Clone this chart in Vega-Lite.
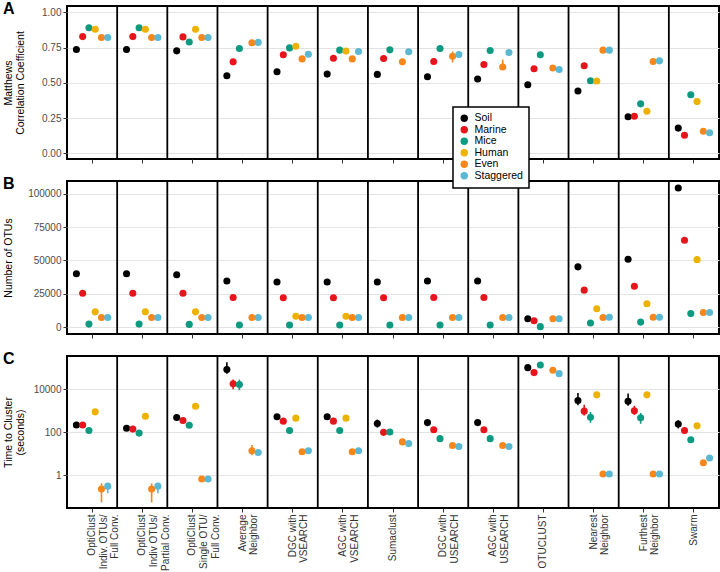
{
  "$schema": "https://vega.github.io/schema/vega-lite/v6.json",
  "padding": {"left": 2, "top": 0, "right": 2, "bottom": 0},
  "spacing": 10,
  "datasets": {
    "m": [
      {"method": "OptiClust|Indiv OTUs/|Partial Conv."},
      {"method": "OptiClust|Single OTU/|Full Conv."},
      {"method": "Average|Neighbor"},
      {"method": "DGC with|VSEARCH"},
      {"method": "AGC with|VSEARCH"},
      {"method": "Sumaclust"},
      {"method": "DGC with|USEARCH"},
      {"method": "AGC with|USEARCH"},
      {"method": "OTUCLUST"},
      {"method": "Nearest|Neighbor"},
      {"method": "Furthest|Neighbor"},
      {"method": "Swarm"}
    ],
    "d": [
      {"method": "OptiClust|Indiv. OTUs/|Full Conv.", "dataset": "Soil", "mcc": 0.736, "otus": 40000, "time": 220},
      {"method": "OptiClust|Indiv. OTUs/|Full Conv.", "dataset": "Marine", "mcc": 0.828, "otus": 25400, "time": 220},
      {"method": "OptiClust|Indiv. OTUs/|Full Conv.", "dataset": "Mice", "mcc": 0.891, "otus": 2200, "time": 122},
      {"method": "OptiClust|Indiv. OTUs/|Full Conv.", "dataset": "Human", "mcc": 0.88, "otus": 11400, "time": 890},
      {"method": "OptiClust|Indiv. OTUs/|Full Conv.", "dataset": "Even", "mcc": 0.821, "otus": 7200, "time": 0.235, "time_lo": 0.056, "time_hi": 0.43},
      {"method": "OptiClust|Indiv. OTUs/|Full Conv.", "dataset": "Staggered", "mcc": 0.821, "otus": 7200, "time": 0.32, "time_lo": 0.15, "time_hi": 0.36},

      {"method": "OptiClust|Indiv OTUs/|Partial Conv.", "dataset": "Soil", "mcc": 0.736, "otus": 40000, "time": 156},
      {"method": "OptiClust|Indiv OTUs/|Partial Conv.", "dataset": "Marine", "mcc": 0.828, "otus": 25400, "time": 141},
      {"method": "OptiClust|Indiv OTUs/|Partial Conv.", "dataset": "Mice", "mcc": 0.891, "otus": 2200, "time": 92},
      {"method": "OptiClust|Indiv OTUs/|Partial Conv.", "dataset": "Human", "mcc": 0.88, "otus": 11400, "time": 562},
      {"method": "OptiClust|Indiv OTUs/|Partial Conv.", "dataset": "Even", "mcc": 0.821, "otus": 7200, "time": 0.235, "time_lo": 0.056, "time_hi": 0.43},
      {"method": "OptiClust|Indiv OTUs/|Partial Conv.", "dataset": "Staggered", "mcc": 0.821, "otus": 7200, "time": 0.32, "time_lo": 0.15, "time_hi": 0.36},

      {"method": "OptiClust|Single OTU/|Full Conv.", "dataset": "Soil", "mcc": 0.727, "otus": 39300, "time": 490},
      {"method": "OptiClust|Single OTU/|Full Conv.", "dataset": "Marine", "mcc": 0.826, "otus": 25400, "time": 355},
      {"method": "OptiClust|Single OTU/|Full Conv.", "dataset": "Mice", "mcc": 0.79, "otus": 2000, "time": 215},
      {"method": "OptiClust|Single OTU/|Full Conv.", "dataset": "Human", "mcc": 0.88, "otus": 11400, "time": 1630},
      {"method": "OptiClust|Single OTU/|Full Conv.", "dataset": "Even", "mcc": 0.821, "otus": 7200, "time": 0.68},
      {"method": "OptiClust|Single OTU/|Full Conv.", "dataset": "Staggered", "mcc": 0.821, "otus": 7200, "time": 0.68},

      {"method": "Average|Neighbor", "dataset": "Soil", "mcc": 0.55, "otus": 34600, "time": 81000, "time_lo": 52000, "time_hi": 180000},
      {"method": "Average|Neighbor", "dataset": "Marine", "mcc": 0.649, "otus": 22200, "time": 18000, "time_lo": 10000, "time_hi": 28000},
      {"method": "Average|Neighbor", "dataset": "Mice", "mcc": 0.743, "otus": 1500, "time": 16400, "time_lo": 9000, "time_hi": 28000},
      {"method": "Average|Neighbor", "dataset": "Even", "mcc": 0.785, "otus": 7200, "time": 14, "time_lo": 8.7, "time_hi": 25.7},
      {"method": "Average|Neighbor", "dataset": "Staggered", "mcc": 0.787, "otus": 7200, "time": 11.6},

      {"method": "DGC with|VSEARCH", "dataset": "Soil", "mcc": 0.579, "otus": 33800, "time": 525, "time_lo": 400, "time_hi": 690},
      {"method": "DGC with|VSEARCH", "dataset": "Marine", "mcc": 0.699, "otus": 22000, "time": 330},
      {"method": "DGC with|VSEARCH", "dataset": "Mice", "mcc": 0.748, "otus": 1500, "time": 121},
      {"method": "DGC with|VSEARCH", "dataset": "Human", "mcc": 0.76, "otus": 8100, "time": 455},
      {"method": "DGC with|VSEARCH", "dataset": "Even", "mcc": 0.67, "otus": 7200, "time": 12.6},
      {"method": "DGC with|VSEARCH", "dataset": "Staggered", "mcc": 0.703, "otus": 7200, "time": 13.9},

      {"method": "AGC with|VSEARCH", "dataset": "Soil", "mcc": 0.562, "otus": 33800, "time": 525},
      {"method": "AGC with|VSEARCH", "dataset": "Marine", "mcc": 0.675, "otus": 22000, "time": 330},
      {"method": "AGC with|VSEARCH", "dataset": "Mice", "mcc": 0.732, "otus": 1500, "time": 121},
      {"method": "AGC with|VSEARCH", "dataset": "Human", "mcc": 0.725, "otus": 8100, "time": 455},
      {"method": "AGC with|VSEARCH", "dataset": "Even", "mcc": 0.67, "otus": 7200, "time": 12.6},
      {"method": "AGC with|VSEARCH", "dataset": "Staggered", "mcc": 0.722, "otus": 7200, "time": 13.9},

      {"method": "Sumaclust", "dataset": "Soil", "mcc": 0.56, "otus": 33800, "time": 257, "time_lo": 166, "time_hi": 390},
      {"method": "Sumaclust", "dataset": "Marine", "mcc": 0.673, "otus": 22000, "time": 100},
      {"method": "Sumaclust", "dataset": "Mice", "mcc": 0.734, "otus": 1500, "time": 104},
      {"method": "Sumaclust", "dataset": "Even", "mcc": 0.649, "otus": 7200, "time": 36},
      {"method": "Sumaclust", "dataset": "Staggered", "mcc": 0.72, "otus": 7200, "time": 30},

      {"method": "DGC with|USEARCH", "dataset": "Soil", "mcc": 0.543, "otus": 34600, "time": 283},
      {"method": "DGC with|USEARCH", "dataset": "Marine", "mcc": 0.651, "otus": 22200, "time": 131},
      {"method": "DGC with|USEARCH", "dataset": "Mice", "mcc": 0.743, "otus": 1500, "time": 51},
      {"method": "DGC with|USEARCH", "dataset": "Even", "mcc": 0.689, "mcc_lo": 0.645, "mcc_hi": 0.722, "otus": 7200, "time": 24.5},
      {"method": "DGC with|USEARCH", "dataset": "Staggered", "mcc": 0.701, "otus": 7200, "time": 22},

      {"method": "AGC with|USEARCH", "dataset": "Soil", "mcc": 0.527, "otus": 34600, "time": 283},
      {"method": "AGC with|USEARCH", "dataset": "Marine", "mcc": 0.63, "otus": 22200, "time": 131},
      {"method": "AGC with|USEARCH", "dataset": "Mice", "mcc": 0.729, "otus": 1500, "time": 51},
      {"method": "AGC with|USEARCH", "dataset": "Even", "mcc": 0.612, "mcc_lo": 0.605, "mcc_hi": 0.665, "otus": 7200, "time": 24.5, "time_lo": 22, "time_hi": 31},
      {"method": "AGC with|USEARCH", "dataset": "Staggered", "mcc": 0.715, "otus": 7200, "time": 22},

      {"method": "OTUCLUST", "dataset": "Soil", "mcc": 0.487, "otus": 6200, "time": 100000},
      {"method": "OTUCLUST", "dataset": "Marine", "mcc": 0.6, "otus": 4700, "time": 59000},
      {"method": "OTUCLUST", "dataset": "Mice", "mcc": 0.699, "otus": 300, "time": 133000},
      {"method": "OTUCLUST", "dataset": "Even", "mcc": 0.605, "otus": 6200, "time": 76000},
      {"method": "OTUCLUST", "dataset": "Staggered", "mcc": 0.595, "otus": 6200, "time": 52700},

      {"method": "Nearest|Neighbor", "dataset": "Soil", "mcc": 0.442, "otus": 45200, "time": 2970, "time_lo": 1820, "time_hi": 6760},
      {"method": "Nearest|Neighbor", "dataset": "Marine", "mcc": 0.621, "otus": 27700, "time": 960, "time_lo": 600, "time_hi": 1900},
      {"method": "Nearest|Neighbor", "dataset": "Mice", "mcc": 0.515, "otus": 3000, "time": 505, "time_lo": 280, "time_hi": 890},
      {"method": "Nearest|Neighbor", "dataset": "Human", "mcc": 0.513, "otus": 13800, "time": 5470},
      {"method": "Nearest|Neighbor", "dataset": "Even", "mcc": 0.732, "otus": 7200, "time": 1.16},
      {"method": "Nearest|Neighbor", "dataset": "Staggered", "mcc": 0.732, "otus": 7400, "time": 1.16},

      {"method": "Furthest|Neighbor", "dataset": "Soil", "mcc": 0.259, "otus": 50900, "time": 2780, "time_lo": 1700, "time_hi": 6300},
      {"method": "Furthest|Neighbor", "dataset": "Marine", "mcc": 0.263, "otus": 30600, "time": 990, "time_lo": 650, "time_hi": 1700},
      {"method": "Furthest|Neighbor", "dataset": "Mice", "mcc": 0.351, "otus": 3700, "time": 470, "time_lo": 250, "time_hi": 800},
      {"method": "Furthest|Neighbor", "dataset": "Human", "mcc": 0.299, "otus": 17500, "time": 5470},
      {"method": "Furthest|Neighbor", "dataset": "Even", "mcc": 0.651, "otus": 7400, "time": 1.16, "time_lo": 1.0, "time_hi": 1.6},
      {"method": "Furthest|Neighbor", "dataset": "Staggered", "mcc": 0.656, "otus": 7400, "time": 1.16},

      {"method": "Swarm", "dataset": "Soil", "mcc": 0.179, "otus": 104400, "time": 245, "time_lo": 152, "time_hi": 365},
      {"method": "Swarm", "dataset": "Marine", "mcc": 0.129, "otus": 65200, "time": 121},
      {"method": "Swarm", "dataset": "Mice", "mcc": 0.416, "otus": 10100, "time": 45},
      {"method": "Swarm", "dataset": "Human", "mcc": 0.367, "otus": 50600, "time": 200},
      {"method": "Swarm", "dataset": "Even", "mcc": 0.157, "otus": 10900, "time": 3.9},
      {"method": "Swarm", "dataset": "Staggered", "mcc": 0.146, "otus": 10900, "time": 6.5}
    ]
  },
  "vconcat": [
    {
      "width": 652, "height": 153,
      "title": {"text": "A"},
      "data": {"name": "d"},
      "layer": [
        {
          "data": {"name": "m"},
          "mark": {"type": "rule", "color": "black", "strokeWidth": 1.8},
          "encoding": {
            "x": {"field": "method", "type": "nominal", "bandPosition": 0, "title": null,
              "scale": {"domain": ["OptiClust|Indiv. OTUs/|Full Conv.", "OptiClust|Indiv OTUs/|Partial Conv.", "OptiClust|Single OTU/|Full Conv.", "Average|Neighbor", "DGC with|VSEARCH", "AGC with|VSEARCH", "Sumaclust", "DGC with|USEARCH", "AGC with|USEARCH", "OTUCLUST", "Nearest|Neighbor", "Furthest|Neighbor", "Swarm"], "paddingInner": 0, "paddingOuter": 0},
              "axis": {"labels": false, "ticks": true, "grid": false}}
          }
        },
        {
          "transform": [{"filter": "isValid(datum.mcc_lo)"}],
          "mark": {"type": "rule", "strokeWidth": 1.6},
          "encoding": {
            "x": {"field": "method", "type": "nominal", "title": null},
            "xOffset": {"field": "dataset", "type": "nominal", "scale": {"domain": ["Soil", "Marine", "Mice", "Human", "Even", "Staggered"], "paddingInner": 0, "paddingOuter": 1.286}},
            "y": {"field": "mcc_lo", "type": "quantitative", "scale": {"domain": [-0.04, 1.045], "nice": false, "zero": false}, "axis": {"title": ["Matthews", "Correlation Coefficient"], "values": [0, 0.25, 0.5, 0.75, 1], "format": ".2f", "titleX": -64, "titleY": 76.5, "titleBaseline": "top"}},
            "y2": {"field": "mcc_hi"},
            "color": {"field": "dataset", "type": "nominal", "scale": {"domain": ["Soil", "Marine", "Mice", "Human", "Even", "Staggered"], "range": ["#000000", "#E8141B", "#0E9A80", "#EDB100", "#F7871A", "#5BB8D3"]}}
          }
        },
        {
          "mark": {"type": "point", "filled": true, "size": 50, "opacity": 1},
          "encoding": {
            "x": {"field": "method", "type": "nominal", "title": null},
            "xOffset": {"field": "dataset", "type": "nominal", "scale": {"domain": ["Soil", "Marine", "Mice", "Human", "Even", "Staggered"], "paddingInner": 0, "paddingOuter": 1.286}},
            "y": {"field": "mcc", "type": "quantitative", "scale": {"domain": [-0.04, 1.045], "nice": false, "zero": false}, "axis": {"title": ["Matthews", "Correlation Coefficient"], "values": [0, 0.25, 0.5, 0.75, 1], "format": ".2f", "titleX": -64, "titleY": 76.5, "titleBaseline": "top"}},
            "color": {"field": "dataset", "type": "nominal", "scale": {"domain": ["Soil", "Marine", "Mice", "Human", "Even", "Staggered"], "range": ["#000000", "#E8141B", "#0E9A80", "#EDB100", "#F7871A", "#5BB8D3"]}}
          }
        }
      ]
    },
    {
      "width": 652, "height": 153,
      "title": {"text": "B"},
      "data": {"name": "d"},
      "layer": [
        {
          "data": {"name": "m"},
          "mark": {"type": "rule", "color": "black", "strokeWidth": 1.8},
          "encoding": {
            "x": {"field": "method", "type": "nominal", "bandPosition": 0, "title": null,
              "scale": {"domain": ["OptiClust|Indiv. OTUs/|Full Conv.", "OptiClust|Indiv OTUs/|Partial Conv.", "OptiClust|Single OTU/|Full Conv.", "Average|Neighbor", "DGC with|VSEARCH", "AGC with|VSEARCH", "Sumaclust", "DGC with|USEARCH", "AGC with|USEARCH", "OTUCLUST", "Nearest|Neighbor", "Furthest|Neighbor", "Swarm"], "paddingInner": 0, "paddingOuter": 0},
              "axis": {"labels": false, "ticks": true, "grid": false}}
          }
        },
        {
          "mark": {"type": "point", "filled": true, "size": 50, "opacity": 1},
          "encoding": {
            "x": {"field": "method", "type": "nominal", "title": null},
            "xOffset": {"field": "dataset", "type": "nominal", "scale": {"domain": ["Soil", "Marine", "Mice", "Human", "Even", "Staggered"], "paddingInner": 0, "paddingOuter": 1.286}},
            "y": {"field": "otus", "type": "quantitative", "scale": {"domain": [-5222, 109666], "nice": false, "zero": false}, "axis": {"title": "Number of OTUs", "values": [0, 25000, 50000, 75000, 100000], "format": "d", "titleX": -64, "titleY": 76.5, "titleBaseline": "top"}},
            "color": {"field": "dataset", "type": "nominal", "scale": {"domain": ["Soil", "Marine", "Mice", "Human", "Even", "Staggered"], "range": ["#000000", "#E8141B", "#0E9A80", "#EDB100", "#F7871A", "#5BB8D3"]}}
          }
        }
      ]
    },
    {
      "width": 652, "height": 152,
      "title": {"text": "C"},
      "data": {"name": "d"},
      "layer": [
        {
          "data": {"name": "m"},
          "mark": {"type": "rule", "color": "black", "strokeWidth": 1.8},
          "encoding": {
            "x": {"field": "method", "type": "nominal", "bandPosition": 0, "title": null,
              "scale": {"domain": ["OptiClust|Indiv. OTUs/|Full Conv.", "OptiClust|Indiv OTUs/|Partial Conv.", "OptiClust|Single OTU/|Full Conv.", "Average|Neighbor", "DGC with|VSEARCH", "AGC with|VSEARCH", "Sumaclust", "DGC with|USEARCH", "AGC with|USEARCH", "OTUCLUST", "Nearest|Neighbor", "Furthest|Neighbor", "Swarm"], "paddingInner": 0, "paddingOuter": 0},
              "axis": {"labels": true, "labelExpr": "split(datum.label, '|')", "labelAngle": -90, "labelAlign": "right", "labelBaseline": "middle", "labelFontSize": 10, "labelLineHeight": 11.7, "labelPadding": 2, "labelLimit": 200, "labelOverlap": false, "labelColor": "#333333", "grid": false}}
          }
        },
        {
          "transform": [{"filter": "isValid(datum.time_lo)"}],
          "mark": {"type": "rule", "strokeWidth": 1.6},
          "encoding": {
            "x": {"field": "method", "type": "nominal", "title": null},
            "xOffset": {"field": "dataset", "type": "nominal", "scale": {"domain": ["Soil", "Marine", "Mice", "Human", "Even", "Staggered"], "paddingInner": 0, "paddingOuter": 1.286}},
            "y": {"field": "time_lo", "type": "quantitative", "scale": {"type": "log", "domain": [0.031, 347000], "nice": false, "zero": false}, "axis": {"title": ["Time to Cluster", "(seconds)"], "values": [1, 100, 10000], "format": "d", "titleX": -64, "titleY": 76, "titleBaseline": "top"}},
            "y2": {"field": "time_hi"},
            "color": {"field": "dataset", "type": "nominal", "scale": {"domain": ["Soil", "Marine", "Mice", "Human", "Even", "Staggered"], "range": ["#000000", "#E8141B", "#0E9A80", "#EDB100", "#F7871A", "#5BB8D3"]}}
          }
        },
        {
          "mark": {"type": "point", "filled": true, "size": 50, "opacity": 1},
          "encoding": {
            "x": {"field": "method", "type": "nominal", "title": null},
            "xOffset": {"field": "dataset", "type": "nominal", "scale": {"domain": ["Soil", "Marine", "Mice", "Human", "Even", "Staggered"], "paddingInner": 0, "paddingOuter": 1.286}},
            "y": {"field": "time", "type": "quantitative", "scale": {"type": "log", "domain": [0.031, 347000], "nice": false, "zero": false}, "axis": {"title": ["Time to Cluster", "(seconds)"], "values": [1, 100, 10000], "format": "d", "titleX": -64, "titleY": 76, "titleBaseline": "top"}},
            "color": {"field": "dataset", "type": "nominal", "scale": {"domain": ["Soil", "Marine", "Mice", "Human", "Even", "Staggered"], "range": ["#000000", "#E8141B", "#0E9A80", "#EDB100", "#F7871A", "#5BB8D3"]}}
          }
        }
      ]
    }
  ],
  "config": {
    "font": "Liberation Sans",
    "background": "white",
    "view": {"stroke": "black", "strokeWidth": 2},
    "axis": {"domain": false, "tickColor": "#333333", "tickSize": 4, "tickWidth": 1, "labelColor": "#4d4d4d", "labelFontSize": 10, "labelPadding": 2, "titleFontSize": 10.5, "titleFontWeight": "normal", "titleColor": "black", "titleLineHeight": 12, "gridColor": "#e3e3e3", "gridWidth": 1},
    "axisX": {"grid": false},
    "title": {"fontSize": 16, "fontWeight": "bold", "anchor": "start", "frame": "bounds", "offset": -12, "color": "black"},
    "legend": {"orient": "none", "legendX": 386, "legendY": 101, "title": null, "padding": 6, "strokeColor": "black", "strokeWidth": 1.5, "fillColor": "white", "symbolType": "circle", "symbolSize": 55, "symbolStrokeWidth": 0, "symbolOpacity": 1, "labelFontSize": 10.5, "labelColor": "black", "rowPadding": 0.5, "labelOffset": 5}
  }
}
